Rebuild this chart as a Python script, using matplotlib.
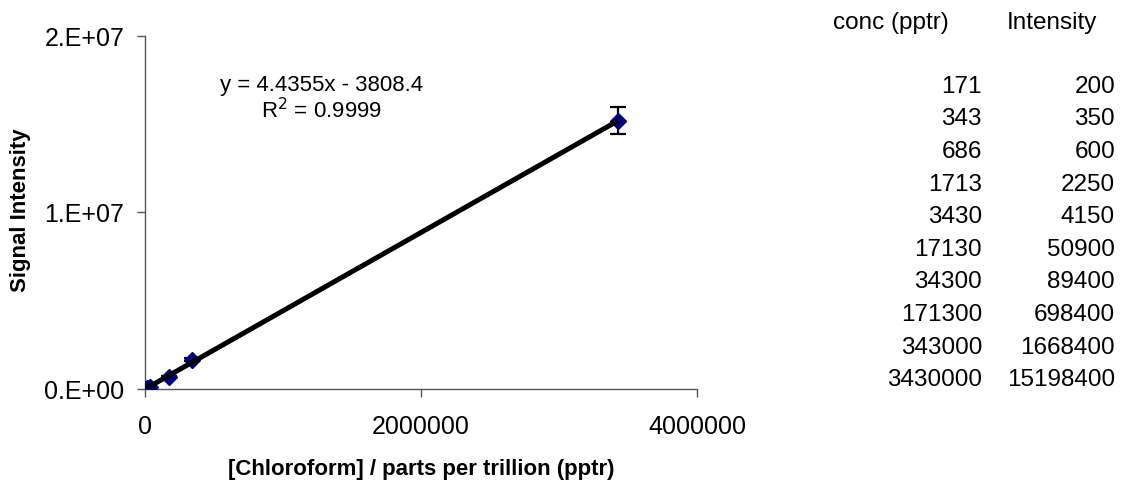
import numpy as np
import matplotlib
matplotlib.use("Agg")
import matplotlib.pyplot as plt
from matplotlib.ticker import FixedLocator, FuncFormatter

plt.rcParams["font.family"] = ["Liberation Sans", "DejaVu Sans"]

# calibration data (table on the right and plotted points)
conc = [171, 343, 686, 1713, 3430, 17130, 34300, 171300, 343000, 3430000]
intensity = [200, 350, 600, 2250, 4150, 50900, 89400, 698400, 1668400, 15198400]
err = [10, 17.5, 30, 112.5, 207.5, 2545, 4470, 34920, 83420, 759920]

slope = 4.4355
intercept = -3808.4
r2 = 0.9999

x_ticks = [0, 2000000, 4000000]
y_ticks = [0, 1e7, 2e7]
y_tick_labels = ["0.E+00", "1.E+07", "2.E+07"]

W, H = 1127, 486
fig = plt.figure(figsize=(W / 100, H / 100), dpi=100)
ax = fig.add_axes([145 / W, (H - 389) / H, (697 - 145) / W, (389 - 36) / H])

ax.errorbar(conc, intensity, yerr=err, fmt="D", color="#000080", ms=8.5,
            ecolor="black", elinewidth=1.6, capsize=5.5, capthick=1.6, zorder=3)

xfit = np.array([min(conc), max(conc)])
ax.plot(xfit, slope * xfit + intercept, color="black", lw=3.6, zorder=4,
        solid_capstyle="butt")

ax.set_xlim(0, 4000000)
ax.set_ylim(0, 2e7)
ax.xaxis.set_major_locator(FixedLocator(x_ticks))
ax.yaxis.set_major_locator(FixedLocator(y_ticks))
ax.xaxis.set_major_formatter(FuncFormatter(lambda v, p: f"{int(v)}"))
ax.set_yticklabels(y_tick_labels)

for side in ["top", "right"]:
    ax.spines[side].set_visible(False)
for side in ["left", "bottom"]:
    ax.spines[side].set_color("#555555")
    ax.spines[side].set_linewidth(1)
ax.tick_params(direction="out", length=5.8, width=1, color="#555555",
               labelsize=18, pad=9)
ax.tick_params(axis="x", pad=13)

fig.text(145 / W + (697 - 145) / W / 2, 1 - 469 / H,
         "[Chloroform] / parts per trillion (pptr)", ha="center", va="center",
         fontsize=16, fontweight="bold")
fig.text(21 / W, 1 - 210 / H, "Signal Intensity", rotation=90, ha="center",
         va="center", fontsize=16, fontweight="bold")

fig.text(322 / W, 1 - 86 / H, f"y = {slope}x - {abs(intercept)}", ha="center",
         va="center", fontsize=16)
fig.text(322 / W, 1 - 111 / H, f"R$^2$ = {r2}", ha="center", va="center",
         fontsize=16)

# data table
fig.text(833 / W, 1 - 23 / H, "conc (pptr)", ha="left", va="center", fontsize=17.5)
fig.text(1007 / W, 1 - 23 / H, "Intensity", ha="left", va="center", fontsize=17.5)
for i, (c, s) in enumerate(zip(conc, intensity)):
    yy = 1 - (86.7 + i * 32.6) / H
    fig.text(982 / W, yy, f"{c}", ha="right", va="center", fontsize=17.5)
    fig.text(1115 / W, yy, f"{s}", ha="right", va="center", fontsize=17.5)

fig.savefig("out.png", dpi=100)
